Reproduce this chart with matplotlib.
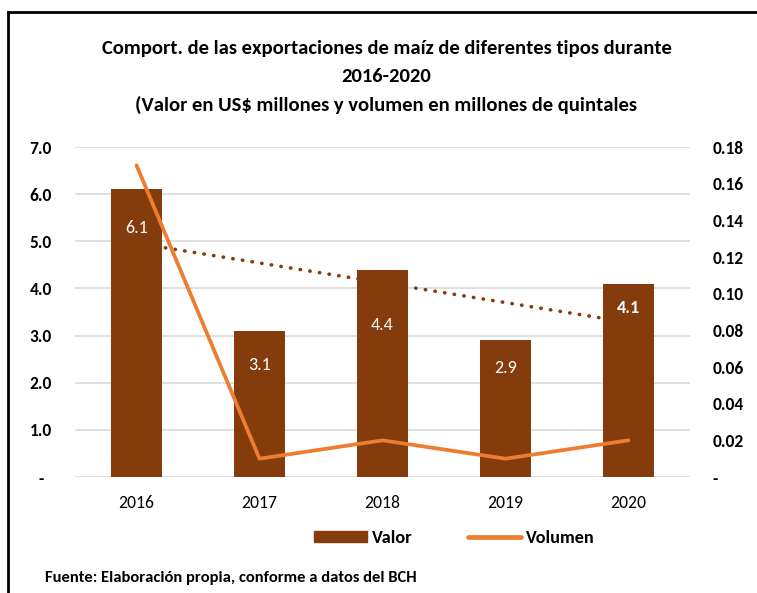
import matplotlib
matplotlib.use("Agg")
import matplotlib.pyplot as plt
import numpy as np
from matplotlib import font_manager
from matplotlib.lines import Line2D
from matplotlib.patches import Patch

years = ["2016", "2017", "2018", "2019", "2020"]
valor = [6.1, 3.1, 4.4, 2.9, 4.1]
volumen = [0.17, 0.01, 0.02, 0.01, 0.02]
label_offsets = [-28, -24.5, -40, -20, -17.5]  # points below bar top

left_ticks = np.arange(0, 8, 1.0)
right_ticks = np.arange(0, 0.19, 0.02)

title_lines = ["Comport. de las exportaciones de maíz de diferentes tipos durante",
               "2016-2020",
               "(Valor en US$ millones y volumen en millones de quintales"]
source = "Fuente: Elaboración propia, conforme a datos del BCH"

# pick a Calibri-like font if present
installed = {f.name for f in font_manager.fontManager.ttflist}
family = "DejaVu Sans"
for name in ["Carlito", "Liberation Sans Narrow", "Open Sans", "Lato"]:
    if name in installed:
        family = name
        break
plt.rcParams["font.family"] = [family, "DejaVu Sans"]

brown = "#843C0C"
orange = "#ED7D31"
grid_col = "#D9D9D9"

fig = plt.figure(figsize=(7.57, 5.93), dpi=100)
renderer = fig.canvas.get_renderer()


def width_px(artist):
    return artist.get_window_extent(renderer).width


def size_for(text, target, weight="normal"):
    # font size that makes `text` about `target` px wide
    t = fig.text(0, 0, text, fontsize=10, fontweight=weight)
    w = width_px(t)
    t.remove()
    return 10 * target / w


ax = fig.add_axes([0.0991, 0.1956, 0.8124, 0.5565])
ax2 = ax.twinx()

x = np.arange(len(years))

# linear trend of Valor, drawn behind the bars
coef = np.polyfit(x, valor, 1)
ax.plot(x, np.polyval(coef, x), color=brown, lw=2.6, ls=(0, (0.1, 2.6)),
        dash_capstyle="round", zorder=1)

ax.bar(x, valor, width=0.42, color=brown, zorder=2)
lab_size = size_for("6.1", 23)
for xi, v, off in zip(x, valor, label_offsets):
    ax.annotate(f"{v:.1f}", (xi, v), xytext=(0, off), textcoords="offset points",
                ha="center", va="center", color="white", fontsize=lab_size,
                fontweight="bold" if xi == 4 else "normal", zorder=3)

ax2.plot(x, volumen, color=orange, lw=2.7, solid_capstyle="round", zorder=4)

ax.set_xlim(-0.5, 4.5)
ax.set_ylim(0, 7)
ax2.set_ylim(0, 0.18)

ytick_size = size_for("0.18", 31, "bold")
xtick_size = size_for("2016", 36)
ax.set_yticks(left_ticks)
ax.set_yticklabels(["-  "] + [f"{t:.1f}" for t in left_ticks[1:]],
                   fontweight="bold", fontsize=ytick_size)
ax2.set_yticks(right_ticks)
ax2.set_yticklabels(["-"] + [f"{t:.2f}" for t in right_ticks[1:]],
                    fontweight="bold", fontsize=ytick_size)
ax.set_xticks(x)
ax.set_xticklabels(years, fontsize=xtick_size)

ax.grid(axis="y", color=grid_col, lw=1.2, zorder=0)
ax.set_axisbelow(True)
for a in (ax, ax2):
    for s in a.spines.values():
        s.set_visible(False)
ax.tick_params(axis="y", length=0, pad=16.5)
ax.tick_params(axis="x", length=0, pad=13)
ax2.tick_params(axis="y", length=0, pad=16)

title_size = (size_for(title_lines[0], 567, "bold") + size_for(title_lines[2], 502, "bold")) / 2
fig.text(0.5106, 0.9174, title_lines[0], ha="center", va="center",
         fontsize=title_size, fontweight="bold")
fig.text(0.5099, 0.8718, title_lines[1], ha="center", va="center",
         fontsize=title_size, fontweight="bold")
fig.text(0.5099, 0.8229, title_lines[2], ha="center", va="center",
         fontsize=title_size, fontweight="bold")

leg_size = size_for("Volumen", 69, "bold")
em = leg_size * 100 / 72
handles = [Patch(color=brown), Line2D([], [], color=orange, lw=3.4, solid_capstyle="round")]
fig.legend(handles, ["Valor", "Volumen"], loc="center", bbox_to_anchor=(0.6004, 0.0927),
           ncol=2, frameon=False, prop={"weight": "bold", "size": leg_size},
           handlelength=53 / em, handleheight=11 / em, columnspacing=55 / em,
           handletextpad=5 / em, borderpad=0, borderaxespad=0)

fig.text(0.0594, 0.0253, source, ha="left", va="center",
         fontsize=size_for(source, 369, "bold"), fontweight="bold")

# chart border (left and top edges visible)
fig.add_artist(Line2D([0.0112, 0.0112], [0.0, 0.98], color="black", lw=2,
                      transform=fig.transFigure))
fig.add_artist(Line2D([0.0112, 1.0], [0.98, 0.98], color="black", lw=2,
                      transform=fig.transFigure))

fig.savefig("out.png", dpi=100)
